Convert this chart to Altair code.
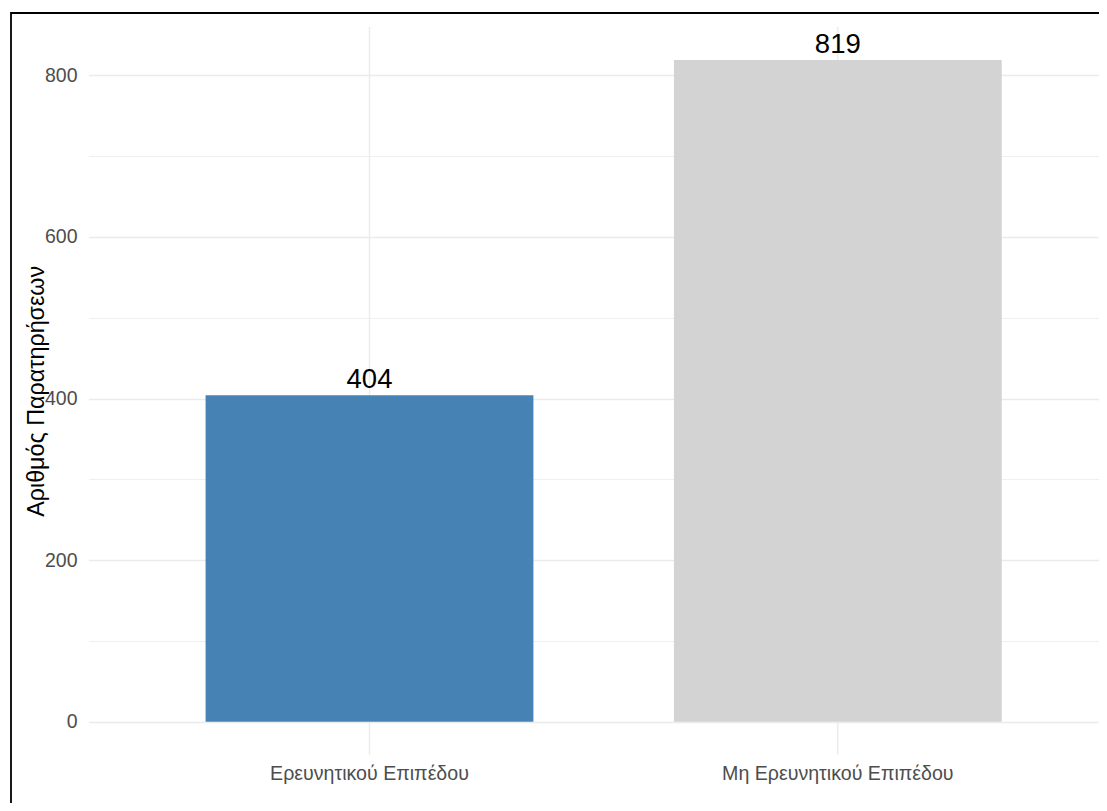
import altair as alt
import pandas as pd

categories = ["Ερευνητικού Επιπέδου", "Μη Ερευνητικού Επιπέδου"]
counts = [404, 819]
bar_colors = ["#4682B4", "#D3D3D3"]
y_tick_values = [0, 100, 200, 300, 400, 500, 600, 700, 800]

df = pd.DataFrame({"cat": categories, "n": counts, "color": bar_colors})

# panel limits as ggplot expands them (5% of the data range on each side)
y_top = max(counts) * 1.05
y_bottom = -max(counts) * 0.05
df["top"] = y_top
df["bottom"] = y_bottom

FONT = "Liberation Sans"

x_scale = alt.Scale(range=[77.5, 1107.8], paddingInner=0.3, paddingOuter=0.25)
y_scale = alt.Scale(domain=[y_bottom, y_top], range=[741.8, 13.9], nice=False, zero=False)

vgrid = alt.Chart(df).mark_rule(color="#EBEBEB", strokeWidth=1.4).encode(
    x=alt.X("cat:N", sort=categories, scale=x_scale),
    y=alt.Y("top:Q", scale=y_scale),
    y2="bottom:Q",
)

bars = alt.Chart(df).mark_bar().encode(
    x=alt.X(
        "cat:N",
        sort=categories,
        scale=x_scale,
        axis=alt.Axis(
            title=None,
            labelAngle=0,
            labelAlign="center",
            labelFont=FONT,
            labelFontSize=19.6,
            labelColor="#4D4D4D",
            labelBaseline="alphabetic",
            labelPadding=25,
            labelLimit=600,
            ticks=False,
            domain=False,
            grid=False,
            offset=-58.2,
        ),
    ),
    y=alt.Y(
        "n:Q",
        scale=y_scale,
        axis=alt.Axis(
            title="Αριθμός Παρατηρήσεων",
            titleFont=FONT,
            titleFontSize=23.3,
            titleFontWeight="normal",
            titleColor="#000000",
            titleBaseline="alphabetic",
            titleX=-34,
            titleY=377.8,
            values=y_tick_values,
            labelExpr="datum.value % 200 === 0 ? datum.label : ''",
            labelFont=FONT,
            labelFontSize=19.5,
            labelColor="#4D4D4D",
            labelPadding=0,
            labelAlign="right",
            labelBaseline="middle",
            ticks=False,
            domain=False,
            grid=True,
            gridColor="#EBEBEB",
            gridWidth={"condition": {"test": "datum.value % 200 === 0", "value": 1.4}, "value": 0.8},
            offset=-66,
        ),
    ),
    color=alt.Color("color:N", scale=None, legend=None),
)

labels = alt.Chart(df).mark_text(
    dy=-7, fontSize=27.5, font=FONT, color="black", baseline="alphabetic"
).encode(
    x=alt.X("cat:N", sort=categories),
    y=alt.Y("n:Q"),
    text=alt.Text("n:Q"),
)

chart = (
    alt.layer(vgrid, bars, labels)
    .properties(
        width=1098,
        height=800,
        padding={"left": 3, "top": 5, "right": -10, "bottom": -10},
        autosize=alt.AutoSizeParams(type="none"),
        background="white",
    )
    .configure_view(stroke="black", strokeWidth=1.8)
)

chart.save("out.html", embed_options={"renderer": "svg", "actions": False})
